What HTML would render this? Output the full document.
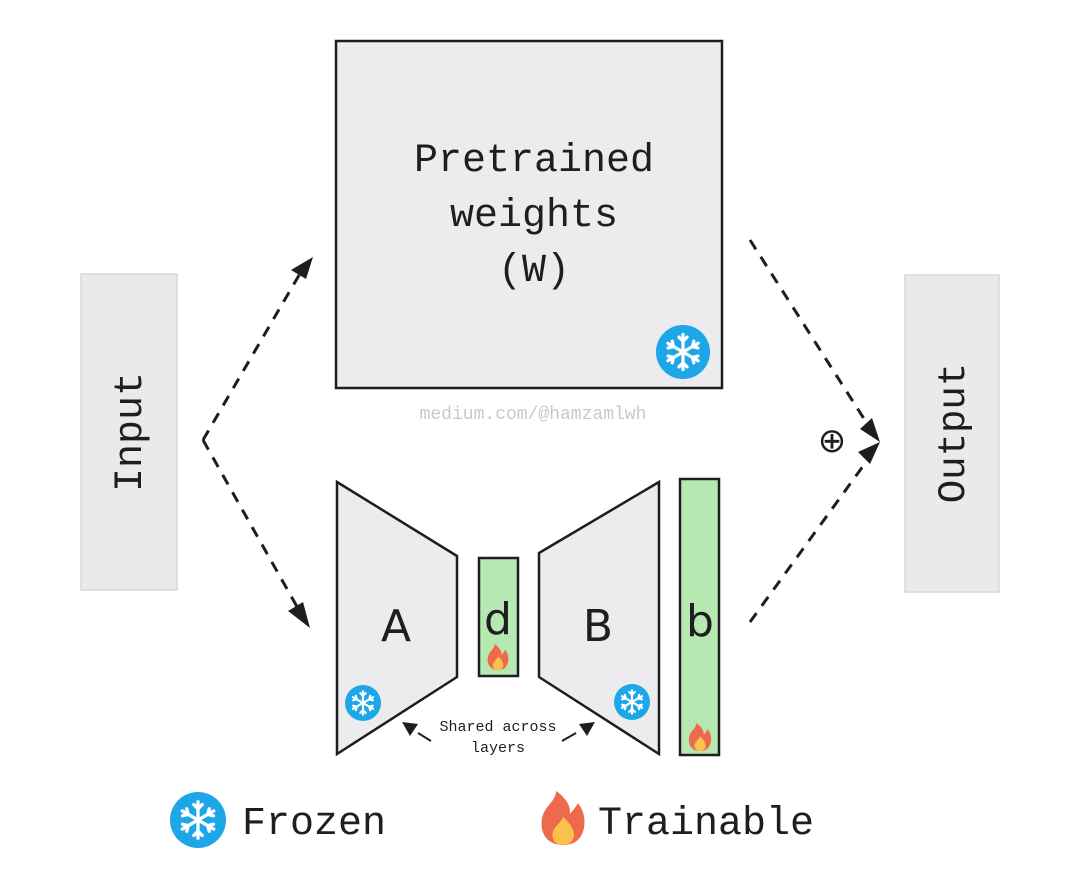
<!DOCTYPE html>
<html><head><meta charset="utf-8"><style>
html,body{margin:0;padding:0;background:#fff;}
svg{display:block}
.m{font-family:"Liberation Mono","DejaVu Sans Mono",monospace;fill:#1e1e1e}
.s{font-family:"DejaVu Sans","Liberation Sans",sans-serif;fill:#1e1e1e}
</style></head><body>
<svg width="1080" height="888" viewBox="0 0 1080 888" xmlns="http://www.w3.org/2000/svg">
<defs>
<g id="snow">
<circle r="1" fill="#1ea7e8"/>
<g stroke="#fff" stroke-width="0.12" stroke-linecap="round" fill="none">
<path d="M0,-0.65V0.65M-0.56,-0.325L0.56,0.325M-0.56,0.325L0.56,-0.325"/>
<path d="M-0.15,-0.55L0,-0.4L0.15,-0.55M-0.15,0.55L0,0.4L0.15,0.55"/>
<path d="M-0.55,-0.15L-0.35,-0.2L-0.4,-0.4M0.55,0.15L0.35,0.2L0.4,0.4M0.55,-0.15L0.35,-0.2L0.4,-0.4M-0.55,0.15L-0.35,0.2L-0.4,0.4"/>
</g>
</g>
<g id="flame">
<path d="M0,1 C-0.7,1 -0.9,0.4 -0.75,-0.1 C-0.6,-0.5 -0.3,-0.6 -0.25,-1 C0.15,-0.7 0.3,-0.4 0.25,-0.15 C0.4,-0.3 0.5,-0.45 0.55,-0.55 C0.85,-0.2 0.85,0.3 0.7,0.6 C0.55,0.9 0.3,1 0,1Z" fill="#ee6a4d"/>
<path d="M0,1 C-0.35,1 -0.45,0.7 -0.35,0.45 C-0.25,0.25 -0.05,0.15 0,-0.05 C0.25,0.2 0.45,0.45 0.4,0.7 C0.35,0.9 0.2,1 0,1Z" fill="#fbc24b"/>
</g>
</defs>

<rect x="81" y="274" width="96" height="316" fill="#e9eaec" stroke="#d8d8da" stroke-width="1.5"/>
<text class="m" font-size="40" transform="translate(141,432) rotate(-90)" text-anchor="middle">Input</text>
<rect x="905" y="275" width="94" height="317" fill="#e9eaec" stroke="#d8d8da" stroke-width="1.5"/>
<text class="m" font-size="39" transform="translate(964,433) rotate(-90)" text-anchor="middle">Output</text>

<rect x="336" y="41" width="386" height="347" fill="#ececee" stroke="#1e1e1e" stroke-width="2.5"/>
<text class="m" font-size="40" x="534" y="171" text-anchor="middle">Pretrained</text>
<text class="m" font-size="40" x="534" y="226" text-anchor="middle">weights</text>
<text class="m" font-size="40" x="534" y="281" text-anchor="middle">(W)</text>
<use href="#snow" transform="translate(683,352) scale(27)"/>
<text class="m" font-size="18" x="533" y="419" text-anchor="middle" style="fill:#c9c9c9">medium.com/@hamzamlwh</text>

<g stroke="#1e1e1e" stroke-width="3" stroke-dasharray="11 9" fill="none">
<path d="M203,440 L305,265"/>
<path d="M203,440 L300,612"/>
<path d="M750,240 L868,425"/>
<path d="M750,622 L866,462"/>
</g>
<g fill="#1e1e1e">
<polygon points="313,257 291,270 306,279"/>
<polygon points="310,628 288,611 303,602"/>
<polygon points="880,442 860,429 872,418"/>
<polygon points="880,442 858,452 870,464"/>
</g>
<text class="s" font-size="34" x="832" y="452" text-anchor="middle">⊕</text>

<polygon points="337,482 457,556 457,677 337,754" fill="#ececee" stroke="#1e1e1e" stroke-width="2.5"/>
<text class="s" font-size="44" x="396" y="641" text-anchor="middle">A</text>
<use href="#snow" transform="translate(363,703) scale(18)"/>
<rect x="479" y="558" width="39" height="118" fill="#b6e8b2" stroke="#1e1e1e" stroke-width="2.5"/>
<text class="s" font-size="44" x="498" y="634" text-anchor="middle">d</text>
<use href="#flame" transform="translate(498,657) scale(13)"/>
<polygon points="659,482 539,553 539,677 659,754" fill="#ececee" stroke="#1e1e1e" stroke-width="2.5"/>
<text class="s" font-size="44" x="598" y="641" text-anchor="middle">B</text>
<use href="#snow" transform="translate(632,702) scale(18)"/>
<rect x="680" y="479" width="39" height="276" fill="#b6e8b2" stroke="#1e1e1e" stroke-width="2.5"/>
<text class="s" font-size="44" x="700" y="636" text-anchor="middle">b</text>
<use href="#flame" transform="translate(700,737) scale(14)"/>

<text class="m" font-size="15" x="498" y="731" text-anchor="middle">Shared across</text>
<text class="m" font-size="15" x="498" y="752" text-anchor="middle">layers</text>
<g stroke="#1e1e1e" stroke-width="2"><path d="M431,741 L418,733"/><path d="M562,741 L576,733"/></g>
<g fill="#1e1e1e">
<polygon points="402,722 418,724 410,736"/>
<polygon points="595,722 579,724 587,736"/>
</g>

<use href="#snow" transform="translate(198,820) scale(28)"/>
<text class="m" font-size="40" x="242" y="834">Frozen</text>
<use href="#flame" transform="translate(563,818) scale(27)"/>
<text class="m" font-size="40" x="598" y="834">Trainable</text>
</svg>
</body></html>
